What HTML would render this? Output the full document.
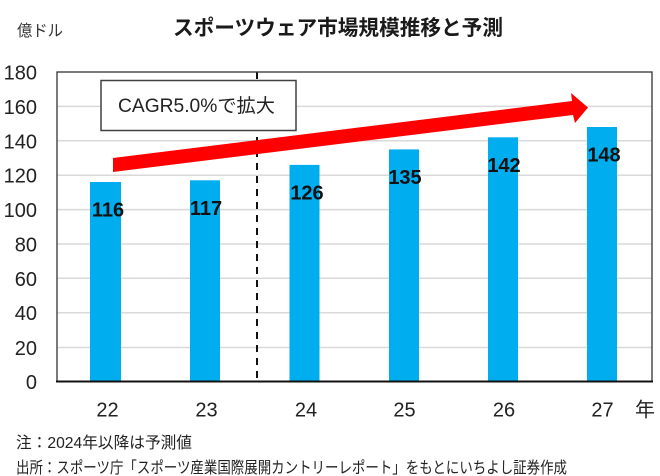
<!DOCTYPE html>
<html>
<head>
<meta charset="utf-8">
<style>
  html, body { margin: 0; padding: 0; background: #fff; }
  svg { display: block; }
  .jp { font-family: "Liberation Sans", "Noto Sans CJK JP", sans-serif; }
</style>
</head>
<body>
<svg width="660" height="476" viewBox="0 0 660 476" xmlns="http://www.w3.org/2000/svg">
  <rect x="0" y="0" width="660" height="476" fill="#fff"/>

  <!-- title -->
  <text x="173" y="35" class="jp" font-size="21" font-weight="bold" fill="#1a1a1a" textLength="330" lengthAdjust="spacingAndGlyphs">スポーツウェア市場規模推移と予測</text>
  <!-- unit -->
  <text x="17" y="36" class="jp" font-size="16" fill="#333" textLength="46" lengthAdjust="spacingAndGlyphs">億ドル</text>

  <!-- gridlines -->
  <g stroke="#d9d9d9" stroke-width="1.5">
    <line x1="57" x2="652" y1="106.4" y2="106.4"/>
    <line x1="57" x2="652" y1="140.8" y2="140.8"/>
    <line x1="57" x2="652" y1="175.2" y2="175.2"/>
    <line x1="57" x2="652" y1="209.6" y2="209.6"/>
    <line x1="57" x2="652" y1="244.0" y2="244.0"/>
    <line x1="57" x2="652" y1="278.3" y2="278.3"/>
    <line x1="57" x2="652" y1="312.7" y2="312.7"/>
    <line x1="57" x2="652" y1="347.5" y2="347.5"/>
  </g>

  <!-- y tick labels -->
  <g font-family="Liberation Sans, sans-serif" font-size="20" fill="#222" text-anchor="end">
    <text x="37" y="79.5">180</text>
    <text x="37" y="113.9">160</text>
    <text x="37" y="148.3">140</text>
    <text x="37" y="182.7">120</text>
    <text x="37" y="217.1">100</text>
    <text x="37" y="251.5">80</text>
    <text x="37" y="285.8">60</text>
    <text x="37" y="320.2">40</text>
    <text x="37" y="354.8">20</text>
    <text x="37" y="389">0</text>
  </g>

  <!-- bars -->
  <g fill="#00adef">
    <rect x="90" y="182.0" width="31" height="199.5"/>
    <rect x="190" y="180.3" width="30" height="201.2"/>
    <rect x="289.5" y="164.9" width="30" height="216.6"/>
    <rect x="389" y="149.4" width="30" height="232.1"/>
    <rect x="488" y="137.3" width="30" height="244.2"/>
    <rect x="587" y="127.0" width="30" height="254.5"/>
  </g>

  <!-- dashed divider -->
  <line x1="257" y1="72" x2="257" y2="381" stroke="#111" stroke-width="2" stroke-dasharray="7,6"/>

  <!-- plot border -->
  <rect x="57" y="72" width="595" height="309.5" fill="none" stroke="#333" stroke-width="1.3"/>
  <line x1="56" y1="381.5" x2="653" y2="381.5" stroke="#111" stroke-width="2"/>

  <!-- CAGR box -->
  <rect x="101" y="80.5" width="195" height="50" fill="#fff" stroke="#404040" stroke-width="1.5"/>
  <text x="118" y="112" class="jp" font-size="19" fill="#222" textLength="157" lengthAdjust="spacingAndGlyphs">CAGR5.0%で拡大</text>

  <!-- arrow -->
  <polygon points="113,158 572,101 571,93 588,107.5 575,123 573,115 113,172" fill="#ff0000"/>

  <!-- data labels -->
  <g font-family="Liberation Sans, sans-serif" font-size="20" font-weight="bold" fill="#111" text-anchor="middle">
    <text x="108" y="216.5">116</text>
    <text x="206" y="214.8">117</text>
    <text x="307" y="199.4">126</text>
    <text x="405" y="183.9">135</text>
    <text x="504" y="171.8">142</text>
    <text x="604" y="161.5">148</text>
  </g>

  <!-- x tick labels -->
  <g font-family="Liberation Sans, sans-serif" font-size="20" fill="#222" text-anchor="middle">
    <text x="107.5" y="416.5">22</text>
    <text x="206.5" y="416.5">23</text>
    <text x="306" y="416.5">24</text>
    <text x="404.5" y="416.5">25</text>
    <text x="504" y="416.5">26</text>
    <text x="602.5" y="416.5">27</text>
  </g>
  <text x="635" y="416.5" class="jp" font-size="20" fill="#222">年</text>

  <!-- footnotes -->
  <text x="16" y="448" class="jp" font-size="16" fill="#222" textLength="176" lengthAdjust="spacingAndGlyphs">注：2024年以降は予測値</text>
  <text x="16" y="473" class="jp" font-size="16" fill="#222" textLength="551" lengthAdjust="spacingAndGlyphs">出所：スポーツ庁「スポーツ産業国際展開カントリーレポート」をもとにいちよし証券作成</text>
</svg>
</body>
</html>
